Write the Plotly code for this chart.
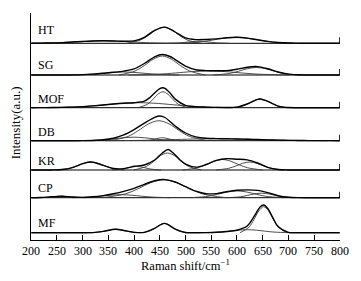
import plotly.graph_objects as go

# ---------------- data ----------------
panel_names = ["HT", "SG", "MOF", "DB", "KR", "CP", "MF"]
x_tick_vals = [200, 250, 300, 350, 400, 450, 500, 550, 600, 650, 700, 750, 800]
x_tick_text = ["200", "250", "300", "350", "400", "450", "500", "550", "600", "650", "700", "750", "800"]

grid_x = [200, 220, 240, 260, 280, 300, 320, 340, 360, 380, 400, 420, 440, 460, 480, 500,
          520, 540, 560, 580, 600, 620, 640, 660, 680, 700, 720, 740, 760, 780, 800]

# HT
HT_x = grid_x
HT_y = [0.1, 0.2, 0.4, 0.7, 1.25, 1.8, 2.3, 2.5, 2.3, 2.0, 2.45, 6.0, 12.9, 16.2, 11.3, 5.4,
        3.7, 3.8, 4.4, 5.5, 6.0, 5.2, 3.5, 1.9, 0.8, 0.25, 0.1, 0, 0, 0, 0]
HT_p1_x = [200, 250, 280, 310, 340, 370, 400, 430, 484]
HT_p1_y = [0.06, 0.53, 1.25, 2.1, 2.5, 2.1, 1.25, 0.53, 0]
HT_p2_x = [386, 413, 428, 443, 458, 473, 488, 503, 530]
HT_p2_y = [0, 3.4, 8, 13.4, 16, 13.4, 8, 3.4, 0]
HT_p3_x = [465, 488, 500, 512, 525, 538, 550, 562, 585]
HT_p3_y = [0, 0.42, 1, 1.7, 2, 1.7, 1, 0.42, 0]
HT_p4_x = [484, 527, 550, 574, 598, 622, 646, 669, 712]
HT_p4_y = [0, 1.26, 3, 5, 6, 5, 3, 1.26, 0]

# SG
SG_x = [200, 220, 240, 260, 280, 300, 320, 340, 360, 380, 400, 420, 440, 455, 470, 480, 500,
        520, 540, 560, 580, 600, 620, 640, 660, 680, 700, 720, 740, 760, 780, 800]
SG_y = [0, 0, 0, 0, 0.1, 0.35, 0.9, 1.8, 2.7, 3.85, 6.1, 11.5, 18.2, 20.5, 18.5, 15.4, 8.9,
        5.3, 4.4, 4.2, 4.4, 5.8, 7.8, 8.4, 6.2, 3.0, 0.9, 0.2, 0, 0, 0, 0]
SG_p1_x = [371, 402, 420, 438, 455, 472, 490, 508, 539]
SG_p1_y = [0, 4, 9.5, 16, 19, 16, 9.5, 4, 0]
SG_p2_x = [389, 448, 480, 512, 545, 578, 610, 642, 701]
SG_p2_y = [0, 0.84, 2, 3.36, 4, 3.36, 2, 0.84, 0]
SG_p3_x = [554, 586, 603, 620, 638, 656, 673, 690, 722]
SG_p3_y = [0, 1.6, 3.75, 6.3, 7.5, 6.3, 3.75, 1.6, 0]
SG_p4_x = [272, 312, 335, 358, 380, 402, 425, 448, 488]
SG_p4_y = [0, 0.63, 1.5, 2.5, 3, 2.5, 1.5, 0.63, 0]

# MOF
MOF_x = [200, 220, 240, 260, 280, 300, 320, 340, 360, 380, 400, 420, 430, 440, 450, 456, 460,
         470, 480, 500, 520, 540, 560, 580, 600, 620, 640, 645, 660, 680, 700, 720, 740, 760,
         780, 800]
MOF_y = [0, 0.06, 0.14, 0.31, 0.62, 1.1, 1.84, 2.7, 3.7, 4.5, 5.0, 6.6, 9.8, 14.8, 19.1, 19.9,
         19.3, 14.6, 8.6, 2.4, 1.1, 0.62, 0.3, 0.2, 0.6, 3.7, 8.4, 8.7, 6.4, 1.6, 0.14, 0, 0, 0,
         0, 0]
MOF_p1_x = [230, 298, 335, 372, 410, 448, 485, 522, 590]
MOF_p1_y = [0, 1.05, 2.5, 4.2, 5, 4.2, 2.5, 1.05, 0]
MOF_p2_x = [408, 426, 436, 446, 456, 466, 476, 486, 504]
MOF_p2_y = [0, 3.4, 8, 13.4, 16, 13.4, 8, 3.4, 0]
MOF_p3_x = [591, 611, 622, 634, 645, 656, 668, 679, 699]
MOF_p3_y = [0, 1.8, 4.35, 7.3, 8.7, 7.3, 4.35, 1.8, 0]

# DB
DB_x = [200, 220, 240, 260, 280, 300, 320, 340, 360, 380, 400, 420, 440, 450, 460, 480, 500,
        520, 540, 560, 580, 600, 620, 640, 660, 680, 700, 720, 740, 760, 780, 800]
DB_y = [0, 0, 0, 0, 0, 0.05, 0.25, 0.9, 2.5, 5.8, 11.1, 17.6, 23.3, 24.7, 23.2, 14.6, 7.7,
        3.85, 2.4, 2.1, 1.93, 1.75, 1.47, 1.16, 0.85, 0.58, 0.37, 0.22, 0.12, 0.07, 0.03, 0.01]
DB_p1_x = [352, 388, 408, 428, 448, 468, 488, 508, 544]
DB_p1_y = [0, 4.2, 10, 16.8, 20, 16.8, 10, 4.2, 0]
DB_p2_x = [419, 432, 440, 448, 455, 462, 470, 478, 491]
DB_p2_y = [0, 0.63, 1.5, 2.5, 3, 2.5, 1.5, 0.63, 0]
DB_p3_x = [344, 425, 470, 515, 560, 605, 650, 695, 776]
DB_p3_y = [0, 0.42, 1, 1.68, 2, 1.68, 1, 0.42, 0]
DB_p4_x = [304, 340, 360, 380, 400, 420, 440, 460, 496]
DB_p4_y = [0, 0.74, 1.75, 2.94, 3.5, 2.94, 1.75, 0.74, 0]

# KR
KR_x = [200, 220, 240, 260, 280, 300, 316, 340, 360, 380, 400, 420, 440, 455, 466, 475, 490,
        500, 520, 540, 560, 580, 600, 620, 640, 660, 680, 700, 720, 740, 760, 780, 800]
KR_y = [0, 0, 0.04, 0.45, 2.4, 6.3, 8, 4.7, 1.5, 1.4, 3.7, 5.0, 10.0, 17.0, 20.5, 17.5, 9.8,
        5.9, 2.9, 5.5, 9.7, 11.3, 10.8, 10.1, 7.0, 2.7, 0.5, 0.05, 0, 0, 0, 0, 0]
KR_p1_x = [250, 275, 288, 302, 316, 330, 344, 357, 382]
KR_p1_y = [0, 1.7, 4, 6.7, 8, 6.7, 4, 1.7, 0]
KR_p2_x = [357, 375, 385, 395, 405, 415, 425, 435, 453]
KR_p2_y = [0, 0.74, 1.75, 2.94, 3.5, 2.94, 1.75, 0.74, 0]
KR_p3_x = [399, 424, 438, 451, 465, 479, 492, 506, 531]
KR_p3_y = [0, 3.6, 8.5, 14.3, 17, 14.3, 8.5, 3.6, 0]
KR_p4_x = [494, 523, 540, 556, 572, 588, 604, 621, 650]
KR_p4_y = [0, 2.2, 5.25, 8.8, 10.5, 8.8, 5.25, 2.2, 0]
KR_p5_x = [559, 584, 598, 611, 625, 639, 652, 666, 691]
KR_p5_y = [0, 1.7, 4, 6.7, 8, 6.7, 4, 1.7, 0]

# CP
CP_x = grid_x
CP_y = [0, 0.14, 0.9, 1.5, 0.66, 0.34, 0.9, 2.1, 3.95, 6.3, 9.4, 13.4, 16.9, 18.1, 15.7, 11.05,
        6.5, 4.0, 4.1, 6.0, 7.4, 7.8, 7.3, 5.1, 2.0, 0.43, 0.04, 0, 0, 0, 0]
CP_p1_x = [338, 383, 408, 433, 458, 483, 508, 533, 578]
CP_p1_y = [0, 3.8, 9, 15.1, 18, 15.1, 9, 3.8, 0]
CP_p2_x = [209, 227, 237, 247, 257, 267, 277, 287, 305]
CP_p2_y = [0, 0.32, 0.75, 1.26, 1.5, 1.26, 0.75, 0.32, 0]
CP_p3_x = [510, 544, 562, 581, 600, 619, 638, 656, 690]
CP_p3_y = [0, 1.43, 3.4, 5.7, 6.8, 5.7, 3.4, 1.43, 0]
CP_p4_x = [582, 607, 620, 634, 648, 662, 676, 689, 714]
CP_p4_y = [0, 0.95, 2.25, 3.8, 4.5, 3.8, 2.25, 0.95, 0]
CP_p5_x = [279, 315, 335, 355, 375, 395, 415, 435, 471]
CP_p5_y = [0, 0.63, 1.5, 2.5, 3, 2.5, 1.5, 0.63, 0]

# MF
MF_x = [200, 220, 240, 260, 280, 300, 320, 340, 364, 380, 400, 420, 440, 459, 480, 500, 520,
        540, 560, 580, 600, 620, 635, 645, 652, 660, 670, 680, 700, 720, 740, 760, 780, 800]
MF_y = [0, 0, 0, 0, 0, 0, 0.12, 1.29, 3.5, 2.25, 0.37, 0.38, 4.3, 9.3, 3.65, 0.25, 0.01, 0.08,
        0.39, 1.2, 2.5, 6.7, 17.5, 25.8, 27.7, 24.2, 14.8, 6.2, 0.4, 0, 0, 0, 0, 0]
MF_p1_x = [316, 334, 344, 354, 364, 374, 384, 394, 412]
MF_p1_y = [0, 0.74, 1.75, 2.94, 3.5, 2.94, 1.75, 0.74, 0]
MF_p2_x = [416, 432, 441, 450, 459, 468, 477, 486, 502]
MF_p2_y = [0, 1.95, 4.65, 7.8, 9.3, 7.8, 4.65, 1.95, 0]
MF_p3_x = [536, 568, 585, 602, 620, 638, 655, 672, 704]
MF_p3_y = [0, 0.63, 1.5, 2.5, 3, 2.5, 1.5, 0.63, 0]
MF_p4_x = [606, 623.5, 633, 642.5, 652, 661.5, 671, 680.5, 698]
MF_p4_y = [0, 5.5, 13, 21.8, 26, 21.8, 13, 5.5, 0]

# ---------------- layout (stacking) ----------------
panel_offset = [196.7, 165.0, 132.3, 99.3, 70.0, 42.3, 7.3]
label_lift = [13.3, 10.0, 8.7, 9.0, 9.3, 9.3, 10.0]

panels = {
    "HT": ((HT_x, HT_y), [(HT_p1_x, HT_p1_y), (HT_p2_x, HT_p2_y), (HT_p3_x, HT_p3_y), (HT_p4_x, HT_p4_y)]),
    "SG": ((SG_x, SG_y), [(SG_p1_x, SG_p1_y), (SG_p2_x, SG_p2_y), (SG_p3_x, SG_p3_y), (SG_p4_x, SG_p4_y)]),
    "MOF": ((MOF_x, MOF_y), [(MOF_p1_x, MOF_p1_y), (MOF_p2_x, MOF_p2_y), (MOF_p3_x, MOF_p3_y)]),
    "DB": ((DB_x, DB_y), [(DB_p1_x, DB_p1_y), (DB_p2_x, DB_p2_y), (DB_p3_x, DB_p3_y), (DB_p4_x, DB_p4_y)]),
    "KR": ((KR_x, KR_y), [(KR_p1_x, KR_p1_y), (KR_p2_x, KR_p2_y), (KR_p3_x, KR_p3_y), (KR_p4_x, KR_p4_y), (KR_p5_x, KR_p5_y)]),
    "CP": ((CP_x, CP_y), [(CP_p1_x, CP_p1_y), (CP_p2_x, CP_p2_y), (CP_p3_x, CP_p3_y), (CP_p4_x, CP_p4_y), (CP_p5_x, CP_p5_y)]),
    "MF": ((MF_x, MF_y), [(MF_p1_x, MF_p1_y), (MF_p2_x, MF_p2_y), (MF_p3_x, MF_p3_y), (MF_p4_x, MF_p4_y)]),
}

FONT = "Liberation Serif, Times New Roman, serif"
fig = go.Figure()
annotations = []

for i, name in enumerate(panel_names):
    off = panel_offset[i]
    (sx, sy), comps = panels[name]
    if name != "MF":
        fig.add_trace(go.Scatter(x=[200, 800], y=[off, off], mode="lines",
                                 line=dict(color="black", width=1), hoverinfo="skip"))
        fig.add_trace(go.Scatter(x=[800, 800], y=[off, off + 6], mode="lines",
                                 line=dict(color="black", width=1.2), hoverinfo="skip"))
    for cx, cy in comps:
        fig.add_trace(go.Scatter(x=cx, y=[v + off for v in cy], mode="lines",
                                 line=dict(color="#3a3a3a", width=0.9, shape="spline", smoothing=0.9),
                                 hoverinfo="skip"))
    fig.add_trace(go.Scatter(x=sx, y=[v + off for v in sy], mode="lines",
                             line=dict(color="black", width=1.4, shape="spline", smoothing=0.9),
                             hoverinfo="skip"))
    annotations.append(dict(x=210, y=off + label_lift[i], xref="x", yref="y", text=name,
                            showarrow=False, xanchor="left", yanchor="middle",
                            font=dict(family=FONT, size=12, color="black")))

# x tick labels placed close under the axis (ticks point inward)
for tv, tt in zip(x_tick_vals, x_tick_text):
    annotations.append(dict(x=tv, y=-0.05, xref="x", yref="paper", text=tt,
                            showarrow=False, xanchor="center", yanchor="middle",
                            font=dict(family=FONT, size=12, color="black")))

annotations.append(dict(x=0.5, y=-0.108, xref="paper", yref="paper",
                        text="Raman shift/cm<sup>−1</sup>", showarrow=False,
                        xanchor="center", yanchor="middle",
                        font=dict(family=FONT, size=12.5, color="black")))
annotations.append(dict(x=-0.052, y=0.518, xref="paper", yref="paper",
                        text="Intensity(a.u.)", showarrow=False, textangle=-90,
                        xanchor="center", yanchor="middle",
                        font=dict(family=FONT, size=13, color="black")))

fig.update_layout(
    width=361, height=281,
    margin=dict(l=31, r=21, t=13, b=41),
    paper_bgcolor="white", plot_bgcolor="white",
    showlegend=False,
    annotations=annotations,
    xaxis=dict(range=[199.6, 800.4], tickvals=x_tick_vals, ticks="inside", ticklen=5,
               tickcolor="black", tickwidth=1, showline=True, linecolor="black", linewidth=1,
               showticklabels=False, showgrid=False, zeroline=False),
    yaxis=dict(range=[0, 227], tickvals=[227], ticks="inside", ticklen=3, tickcolor="black",
               showticklabels=False, showline=True, linecolor="black", linewidth=1,
               showgrid=False, zeroline=False),
)

fig.write_html("out.html",
               config={"displayModeBar": False},
               post_script="document.body.style.margin='0';document.body.style.padding='0';"
                           "document.body.style.overflow='hidden';")
